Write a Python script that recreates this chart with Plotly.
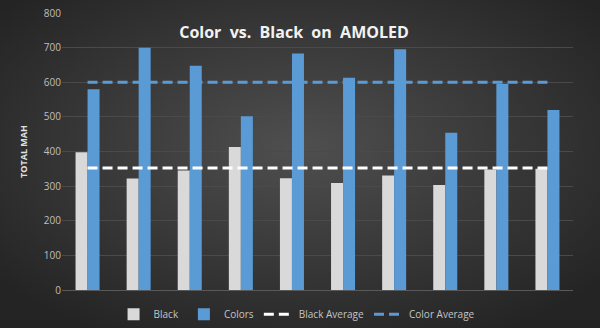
import plotly.graph_objects as go
import base64

categories = ["1", "2", "3", "4", "5", "6", "7", "8", "9", "10"]
black_vals = [398, 322, 345, 413, 323, 309, 331, 303, 348, 350]
color_vals = [580, 700, 648, 502, 683, 613, 695, 454, 596, 520]
black_avg = [352] * 10
color_avg = [600] * 10
y_ticks = [0, 100, 200, 300, 400, 500, 600, 700, 800]

W, H = 600, 328
L, R, T, B = 62, 27, 13, 38
pw, ph = W - L - R, H - T - B

svg = f'''<svg xmlns="http://www.w3.org/2000/svg" width="{W}" height="{H}">
<defs><radialGradient id="g" cx="50%" cy="45%" r="65%">
<stop offset="0%" stop-color="#4f4f4f"/><stop offset="100%" stop-color="#242424"/>
</radialGradient></defs><rect width="{W}" height="{H}" fill="url(#g)"/></svg>'''
uri = "data:image/svg+xml;base64," + base64.b64encode(svg.encode()).decode()

fig = go.Figure()
fig.add_trace(go.Bar(x=categories, y=black_vals, name="Black", marker_color="#d9d9d9", marker_line_width=0))
fig.add_trace(go.Bar(x=categories, y=color_vals, name="Colors", marker_color="#5b9bd5", marker_line_width=0))
fig.add_trace(go.Scatter(x=categories, y=black_avg, name="Black Average", mode="lines",
                         line=dict(color="#ffffff", width=3, dash="10px,5px")))
fig.add_trace(go.Scatter(x=categories, y=color_avg, name="Color Average", mode="lines",
                         line=dict(color="#5b9bd5", width=3, dash="10px,5px")))

fig.update_layout(
    width=W, height=H,
    margin=dict(l=L, r=R, t=T, b=B, autoexpand=False),
    paper_bgcolor="#2c2c2c",
    plot_bgcolor="rgba(0,0,0,0)",
    images=[dict(source=uri, xref="paper", yref="paper", x=-L / pw, y=1 + T / ph,
                 sizex=W / pw, sizey=H / ph, sizing="stretch", layer="below", xanchor="left", yanchor="top")],
    barmode="group", bargap=0.53, bargroupgap=0,
    title=dict(text="Color\u00a0 vs.\u00a0 Black\u00a0 on\u00a0 AMOLED", x=0.49, xanchor="center",
               y=1 - 32 / H, yanchor="middle", yref="container",
               font=dict(family="Open Sans", size=16, color="#f2f2f2", weight="bold")),
    xaxis=dict(showticklabels=False, showgrid=False, showline=True, linecolor="#595959", linewidth=1,
               zeroline=False, ticks=""),
    yaxis=dict(range=[0, 800], tickvals=y_ticks, showgrid=True, gridcolor="#4a4a4a", gridwidth=1,
               zeroline=False, showline=False, ticks="",
               tickfont=dict(family="Open Sans", size=10, color="#bfbfbf"),
               title=dict(text="TOTAL MAH", standoff=14,
                          font=dict(family="Open Sans", size=9, color="#e0e0e0", weight="bold"))),
    legend=dict(orientation="h", x=0.46, xanchor="center", y=-0.035, yanchor="top",
                font=dict(family="Open Sans", size=10, color="#c4c4c4"),
                bgcolor="rgba(0,0,0,0)", itemwidth=30, traceorder="normal"),
    showlegend=True,
)

fig.write_html("out.html")
